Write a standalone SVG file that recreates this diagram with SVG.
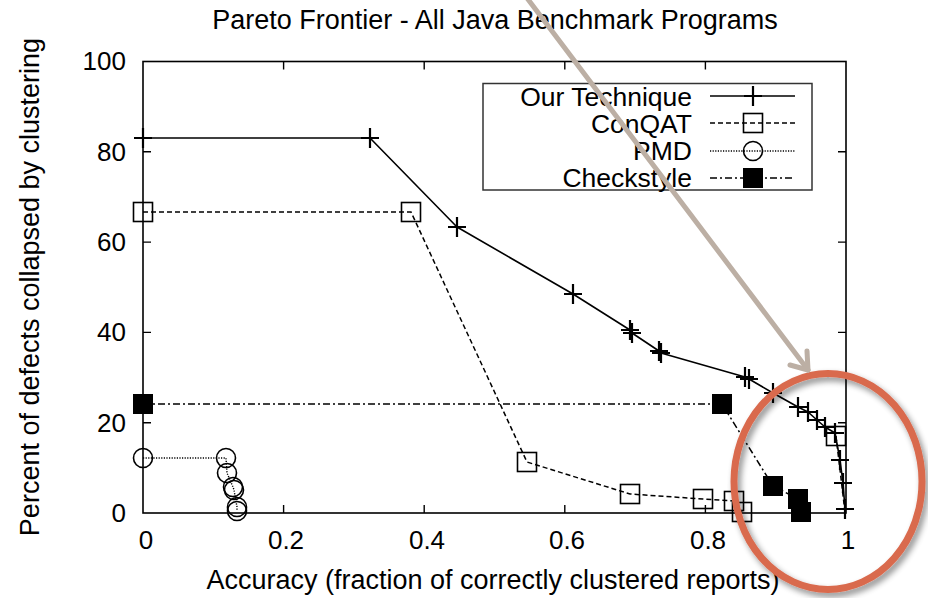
<svg xmlns="http://www.w3.org/2000/svg" xmlns:xlink="http://www.w3.org/1999/xlink" width="928" height="598" viewBox="0 0 928 598">
  <style>
    text { font-family: "Liberation Sans", Arial, Helvetica, sans-serif; fill: #000; }
    .title { font-size: 27px; }
    .tick { font-size: 26px; }
    .leg { font-size: 26.5px; text-anchor: end; }
    .frame { fill: none; stroke: #000; stroke-width: 1.6; }
    .tk { stroke: #000; stroke-width: 1.4; }
    .ot { fill: none; stroke: #000; stroke-width: 1.6; stroke-linejoin: round; }
    .cq { fill: none; stroke: #000; stroke-width: 1.5; stroke-dasharray: 5 3; }
    .pmd { fill: none; stroke: #000; stroke-width: 1.4; stroke-dasharray: 1.2 1.4; }
    .cs { fill: none; stroke: #000; stroke-width: 1.5; stroke-dasharray: 7 3 2 3; }
    .mk-plus { fill: none; stroke: #000; stroke-width: 2.2; }
    .mk-sq { fill: none; stroke: #000; stroke-width: 1.6; }
    .mk-circ { fill: none; stroke: #000; stroke-width: 1.6; }
    .mk-fsq { fill: #000; stroke: none; }
  </style>
  <defs>
    <path id="plus" class="mk-plus" d="M-9,0 H9 M0,-10 V10"/>
    <rect id="sq" class="mk-sq" x="-9.5" y="-9.5" width="19" height="19"/>
    <circle id="circ" class="mk-circ" r="9.5"/>
    <rect id="fsq" class="mk-fsq" x="-10" y="-10" width="20" height="20"/>
    <filter id="softShadow" x="-20%" y="-20%" width="140%" height="140%">
      <feGaussianBlur in="SourceAlpha" stdDeviation="3"/>
      <feOffset dx="3" dy="4" result="blur"/>
      <feComponentTransfer><feFuncA type="linear" slope="0.45"/></feComponentTransfer>
      <feMerge><feMergeNode/><feMergeNode in="SourceGraphic"/></feMerge>
    </filter>
  </defs>

  <rect width="928" height="598" fill="#fff"/>

  <!-- title -->
  <g id="title">
    <text class="title" x="495" y="29" text-anchor="middle">Pareto Frontier - All Java Benchmark Programs</text>
  </g>

  <!-- axes: frame 143..846 (x 0..1), 513..61 (y 0..100) -->
  <g id="axes">
    <rect class="frame" x="143" y="61.5" width="703" height="451.5"/>
    <g class="tk">
      <!-- x ticks, bottom and top -->
      <path d="M283.6,513 v-8 M424.2,513 v-8 M564.8,513 v-8 M705.4,513 v-8 M283.6,61.5 v8 M424.2,61.5 v8 M564.8,61.5 v8 M705.4,61.5 v8"/>
      <!-- y ticks, left and right -->
      <path d="M143,422.7 h8 M143,332.4 h8 M143,242.1 h8 M143,151.8 h8 M846,422.7 h-8 M846,332.4 h-8 M846,242.1 h-8 M846,151.8 h-8"/>
    </g>
    <g class="tick" text-anchor="end">
      <text x="126" y="522">0</text>
      <text x="126" y="432">20</text>
      <text x="126" y="341">40</text>
      <text x="126" y="251">60</text>
      <text x="126" y="161">80</text>
      <text x="126" y="70">100</text>
    </g>
    <g class="tick" text-anchor="middle">
      <text x="146" y="549">0</text>
      <text x="286" y="549">0.2</text>
      <text x="427" y="549">0.4</text>
      <text x="567" y="549">0.6</text>
      <text x="708" y="549">0.8</text>
      <text x="848" y="549">1</text>
    </g>
    <text class="title" x="493" y="589" text-anchor="middle">Accuracy (fraction of correctly clustered reports)</text>
    <text class="title" transform="translate(39,287) rotate(-90)" text-anchor="middle">Percent of defects collapsed by clustering</text>
  </g>

  <!-- Checkstyle -->
  <g id="series-checkstyle">
    <polyline class="cs" points="143,404 722,404 773,486 798,499 801,512"/>
    <use xlink:href="#fsq" x="143" y="404"/>
    <use xlink:href="#fsq" x="722" y="404"/>
    <use xlink:href="#fsq" x="773" y="486"/>
    <use xlink:href="#fsq" x="798" y="499"/>
    <use xlink:href="#fsq" x="801" y="512"/>
  </g>

  <!-- PMD -->
  <g id="series-pmd">
    <polyline class="pmd" points="143,458 226,458 227,473 233,487 234,490 237,507 237,511"/>
    <use xlink:href="#circ" x="143" y="458"/>
    <use xlink:href="#circ" x="226" y="458"/>
    <use xlink:href="#circ" x="227" y="473"/>
    <use xlink:href="#circ" x="233" y="487"/>
    <use xlink:href="#circ" x="234" y="490"/>
    <use xlink:href="#circ" x="237" y="507"/>
    <use xlink:href="#circ" x="237" y="511"/>
  </g>

  <!-- ConQAT -->
  <g id="series-conqat">
    <polyline class="cq" points="143,212 411,212 527,462 630,494 703,499 734,501 742,512"/>
    <polyline class="cq" points="836,436 845,512"/>
    <use xlink:href="#sq" x="143" y="212"/>
    <use xlink:href="#sq" x="411" y="212"/>
    <use xlink:href="#sq" x="527" y="462"/>
    <use xlink:href="#sq" x="630" y="494"/>
    <use xlink:href="#sq" x="703" y="499"/>
    <use xlink:href="#sq" x="734" y="501"/>
    <use xlink:href="#sq" x="742" y="512"/>
    <use xlink:href="#sq" x="836" y="436"/>
  </g>

  <!-- Our Technique -->
  <g id="series-our-technique">
    <polyline class="ot" points="143,138 370,138 457,227 573,294 630,330 632,333 659,351 661,353 745,377 749,379 773,393 798,407 808,412 817,420 825,427 835,433 840,460 843,483 845,509"/>
    <use xlink:href="#plus" x="143" y="138"/>
    <use xlink:href="#plus" x="370" y="138"/>
    <use xlink:href="#plus" x="457" y="227"/>
    <use xlink:href="#plus" x="573" y="294"/>
    <use xlink:href="#plus" x="630" y="330"/>
    <use xlink:href="#plus" x="632" y="333"/>
    <use xlink:href="#plus" x="659" y="351"/>
    <use xlink:href="#plus" x="661" y="353"/>
    <use xlink:href="#plus" x="745" y="377"/>
    <use xlink:href="#plus" x="749" y="379"/>
    <use xlink:href="#plus" x="773" y="393"/>
    <use xlink:href="#plus" x="798" y="407"/>
    <use xlink:href="#plus" x="808" y="412"/>
    <use xlink:href="#plus" x="817" y="420"/>
    <use xlink:href="#plus" x="825" y="427"/>
    <use xlink:href="#plus" x="835" y="433"/>
    <use xlink:href="#plus" x="840" y="460"/>
    <use xlink:href="#plus" x="843" y="483"/>
    <use xlink:href="#plus" x="845" y="509"/>
  </g>

  <!-- key -->
  <g id="legend">
    <rect x="483" y="83.5" width="329" height="106.5" fill="#fff" stroke="#333" stroke-width="1.5"/>
    <text class="leg" x="692" y="106">Our Technique</text>
    <text class="leg" x="692" y="133">ConQAT</text>
    <text class="leg" x="692" y="160">PMD</text>
    <text class="leg" x="692" y="187">Checkstyle</text>
    <line class="ot" x1="710" y1="96" x2="795" y2="96"/>
    <use xlink:href="#plus" x="753" y="96"/>
    <line class="cq" x1="710" y1="123" x2="795" y2="123"/>
    <use xlink:href="#sq" x="753" y="123"/>
    <line class="pmd" x1="710" y1="151" x2="795" y2="151"/>
    <use xlink:href="#circ" x="753" y="151"/>
    <line class="cs" x1="710" y1="178" x2="795" y2="178"/>
    <use xlink:href="#fsq" x="753" y="178"/>
  </g>

  <!-- highlight ring and pointer -->
  <g id="highlight">
    <ellipse cx="828" cy="481.5" rx="94" ry="108" fill="none" stroke="#d96a4e" stroke-width="7" filter="url(#softShadow)"/>
  </g>
  <g id="pointer" fill="none" stroke="#bcafa4" stroke-width="5" stroke-linecap="round" stroke-linejoin="round">
    <path d="M527,-2 L808,370"/>
    <path d="M790,365 L808,370 L807,351"/>
  </g>
</svg>
